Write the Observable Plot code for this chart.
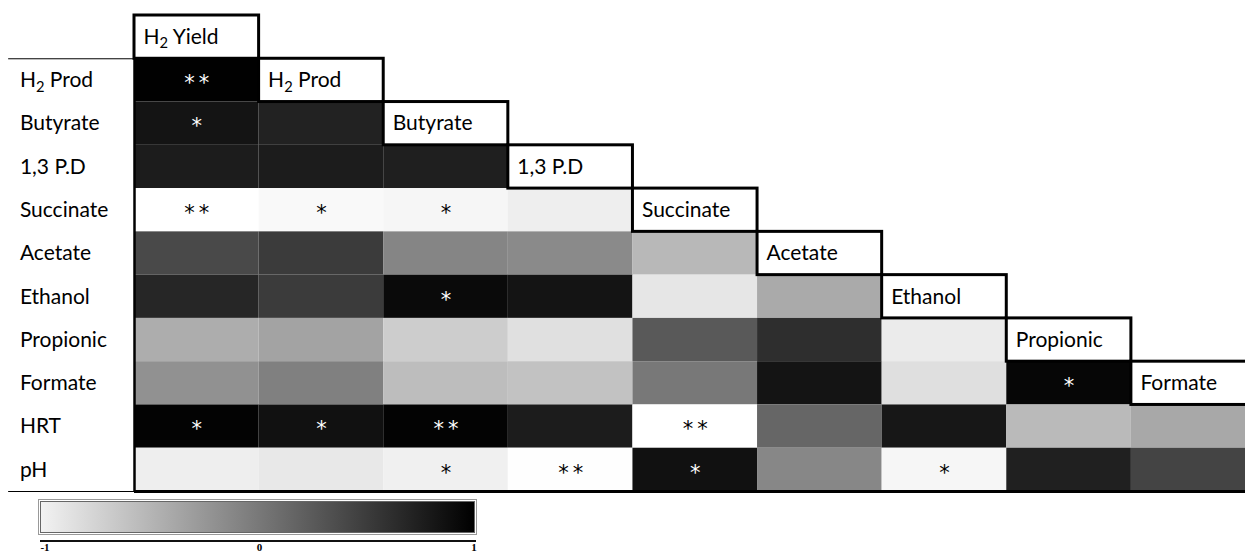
<!DOCTYPE html>
<html><head><meta charset="utf-8">
<script src="https://cdn.jsdelivr.net/npm/d3@7"></script>
<script src="https://cdn.jsdelivr.net/npm/@observablehq/plot@0.6"></script>
<style>
body{margin:0;background:#fff;overflow:hidden;width:1245px;height:554px}
#chart svg{display:block}
#legend{position:relative;height:59px;width:1245px}
#legend .bar{position:absolute;left:40px;top:6px;width:433px;height:30px;border:1px solid #666;outline:1px solid #999;outline-offset:1px;background:linear-gradient(to right,#f2f2f2,#000)}
#legend .line{position:absolute;left:40px;top:45px;width:436px;height:2px;background:#111}
#legend .tick{position:absolute;top:47px;font:bold 11px/11px "Liberation Serif",serif;transform:translateX(-50%);color:#000}
</style></head><body>
<div id="chart"></div>
<div id="legend"></div>
<script>
// Column (variable) names along the diagonal
const columns = ["H2 Yield","H2 Prod","Butyrate","1,3 P.D","Succinate","Acetate","Ethanol","Propionic","Formate"];
// Row labels on the left
const rows = ["H2 Prod","Butyrate","1,3 P.D","Succinate","Acetate","Ethanol","Propionic","Formate","HRT","pH"];

// Correlation values per row (estimated from grey level, -1 = white, 1 = black)
const rH2Prod     = [0.99];
const rButyrate   = [0.84, 0.73];
const rPD13       = [0.78, 0.78, 0.76];
const rSuccinate  = [-1.0, -0.95, -0.93, -0.87];
const rAcetate    = [0.43, 0.54, -0.04, -0.08, -0.44];
const rEthanol    = [0.70, 0.54, 0.92, 0.84, -0.80, -0.33];
const rPropionic  = [-0.36, -0.28, -0.61, -0.76, 0.30, 0.64, -0.84];
const rFormate    = [-0.14, 0.0, -0.48, -0.52, 0.06, 0.84, -0.75, 0.95];
const rHRT        = [0.98, 0.87, 0.98, 0.78, -1.0, 0.20, 0.82, -0.46, -0.32];
const rPH         = [-0.87, -0.82, -0.88, -0.99, 0.87, -0.06, -0.93, 0.75, 0.47];

// Significance marks per row
const sH2Prod     = ["**"];
const sButyrate   = ["*", ""];
const sPD13       = ["", "", ""];
const sSuccinate  = ["**", "*", "*", ""];
const sAcetate    = ["", "", "", "", ""];
const sEthanol    = ["", "", "*", "", "", ""];
const sPropionic  = ["", "", "", "", "", "", ""];
const sFormate    = ["", "", "", "", "", "", "", "*"];
const sHRT        = ["*", "*", "**", "", "**", "", "", "", ""];
const sPH         = ["", "", "*", "**", "*", "", "*", "", ""];

const legendTicks = [-1, 0, 1];

const rowValues = [rH2Prod, rButyrate, rPD13, rSuccinate, rAcetate, rEthanol, rPropionic, rFormate, rHRT, rPH];
const rowStars  = [sH2Prod, sButyrate, sPD13, sSuccinate, sAcetate, sEthanol, sPropionic, sFormate, sHRT, sPH];

const cells = [];
rowValues.forEach((vals, i) => vals.forEach((r, j) => cells.push({
  row: rows[i], col: columns[j], x1: j, x2: j + 1, y1: i + 1, y2: i + 2, r, star: rowStars[i][j]
})));
const headers = columns.map((c, j) => ({label: c, x1: j, x2: j + 1, y1: j, y2: j + 1}));
const rowLab = rows.map((r, i) => ({label: r, y: i + 1.5}));

const starCells = cells.filter(d => d.star);
const FONT = "Lato";
const FS = 21;

const plot = Plot.plot({
  width: 1245, height: 495,
  marginTop: 0, marginRight: 0, marginBottom: 0, marginLeft: 0,
  x: {domain: [0, 9], range: [134, 1255.5], axis: null},
  y: {domain: [0, 11], range: [15, 491], axis: null},
  color: {type: "linear", domain: [-1, 1], range: ["#ffffff", "#000000"]},
  style: {fontFamily: FONT, background: "#fff", color: "#000"},
  marks: [
    Plot.rect(cells, {x1: "x1", x2: "x2", y1: "y1", y2: "y2", fill: "r"}),
    Plot.ruleX([0], {y1: 0, y2: 11, stroke: "#000", strokeWidth: 2.5}),
    Plot.ruleY([11], {x1: 0, x2: 9, stroke: "#000", strokeWidth: 3}),
    Plot.ruleY([1, 11], {x1: -1.01, x2: 0, stroke: "#000", strokeWidth: 1}),
    Plot.rect(headers, {x1: "x1", x2: "x2", y1: "y1", y2: "y2", fill: "white", stroke: "black", strokeWidth: 3}),
    Plot.text(headers, {x: "x1", y: d => d.y1 + 0.5, text: "label", textAnchor: "start", dx: 9, fontSize: FS, fill: "#000"}),
    Plot.text(rowLab, {x: -1, y: "y", text: "label", textAnchor: "start", dx: 10, fontSize: FS, fill: "#000"}),
    Plot.text(starCells.filter(d => d.r > 0.2), {x: d => d.x1 + 0.5, y: d => d.y1 + 0.5, text: "star", fill: "white", fontSize: 21, fontFamily: "DejaVu Sans", dx: 2, dy: 3}),
    Plot.text(starCells.filter(d => d.r <= 0.2), {x: d => d.x1 + 0.5, y: d => d.y1 + 0.5, text: "star", fill: "black", fontSize: 21, fontFamily: "DejaVu Sans", dx: 2, dy: 3})
  ]
});

const ns = "http://www.w3.org/2000/svg";
plot.querySelectorAll("text").forEach(t => {
  const s = t.textContent;
  if (/^H2 /.test(s)) {
    // subscript 2 in "H2 ..."
    t.textContent = "H";
    const sub = document.createElementNS(ns, "tspan");
    sub.setAttribute("dy", "0.3em");
    sub.setAttribute("font-size", "0.7em");
    sub.textContent = "2";
    const rest = document.createElementNS(ns, "tspan");
    rest.setAttribute("dy", "-0.21em");
    rest.textContent = s.slice(2);
    t.appendChild(sub); t.appendChild(rest);
  } else if (/^\*+$/.test(s)) {
    t.setAttribute("letter-spacing", "4");
  }
});
document.getElementById("chart").appendChild(plot);

const legend = document.getElementById("legend");
const bar = document.createElement("div"); bar.className = "bar"; legend.appendChild(bar);
const line = document.createElement("div"); line.className = "line"; legend.appendChild(line);
const lx = d3.scaleLinear().domain([-1, 1]).range([45, 474]);
legendTicks.forEach(v => {
  const el = document.createElement("div");
  el.className = "tick";
  el.style.left = lx(v) + "px";
  el.textContent = String(v);
  legend.appendChild(el);
});
</script>
</body></html>
